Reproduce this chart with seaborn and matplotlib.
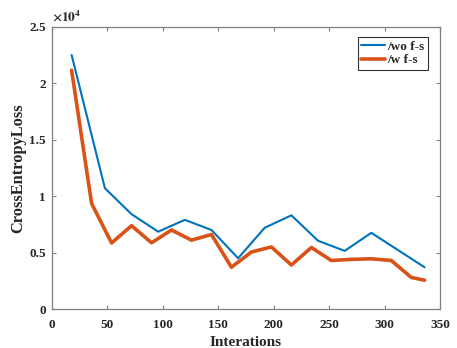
import numpy as np
import pandas as pd
import matplotlib
matplotlib.use("Agg")
import matplotlib.pyplot as plt
from matplotlib.ticker import FuncFormatter
import seaborn as sns

# values
wo_iter = [18, 48, 72, 96, 120, 144, 168, 192, 216, 240, 264, 288, 336]
wo_loss = [22500, 10700, 8400, 6850, 7900, 7000, 4500, 7200, 8300, 6050, 5150, 6750, 3700]

w_iter = [18, 36, 54, 72, 90, 108, 126, 144, 162, 180, 198, 216, 234, 252, 270, 288, 306, 324, 336]
w_loss = [21150, 9350, 5850, 7380, 5870, 7000, 6100, 6600, 3700, 5050, 5500, 3900, 5450,
          4300, 4400, 4450, 4300, 2800, 2550]

x_ticks = [0, 50, 100, 150, 200, 250, 300, 350]
y_ticks = [0, 5000, 10000, 15000, 20000, 25000]

df = pd.concat([
    pd.DataFrame({"Interations": wo_iter, "loss": wo_loss, "model": "/wo f-s"}),
    pd.DataFrame({"Interations": w_iter, "loss": w_loss, "model": "/w f-s"}),
])

sns.set_style("ticks")
plt.rcParams["font.family"] = ["Liberation Serif", "DejaVu Serif"]
plt.rcParams["font.weight"] = "bold"
plt.rcParams["mathtext.fontset"] = "stix"

fig = plt.figure(figsize=(4.57, 3.48), dpi=100)
ax = fig.add_axes([0.113, 0.112, 0.85, 0.811])

palette = {"/wo f-s": "#0072BD", "/w f-s": "#D95319"}
sns.lineplot(data=df, x="Interations", y="loss", hue="model", size="model",
             sizes={"/wo f-s": 1.5, "/w f-s": 2.6}, palette=palette, ax=ax)

ax.set_xlim(0, 350)
ax.set_ylim(0, 25000)
ax.set_xticks(x_ticks)
ax.set_yticks(y_ticks)
ax.yaxis.set_major_formatter(FuncFormatter(lambda v, p: "%g" % (v / 1e4)))
ax.tick_params(direction="in", length=3, top=True, right=True, labelsize=9.5,
               color="#808080", width=0.8, pad=4)
ax.tick_params(axis="x", pad=7)
for s in ax.spines.values():
    s.set_color("#808080")
    s.set_linewidth(0.9)
for lab in ax.get_xticklabels() + ax.get_yticklabels():
    lab.set_fontweight("bold")

ax.set_xlabel("Interations", fontsize=11, fontweight="bold", labelpad=4)
ax.set_ylabel("CrossEntropyLoss", fontsize=11.8, fontweight="bold", labelpad=2)
ax.text(0.0, 1.01, r"$\times10^{4}$", transform=ax.transAxes, fontsize=9.5,
        ha="left", va="bottom")

leg = ax.legend(loc="upper right", fontsize=9.5, frameon=True, fancybox=False,
                handlelength=1.8, borderpad=0.25, labelspacing=0.1,
                handletextpad=0.2, borderaxespad=0,
                bbox_to_anchor=(0.969, 0.963))
leg.get_frame().set_edgecolor("black")
leg.get_frame().set_linewidth(0.8)
for t in leg.get_texts():
    t.set_fontweight("bold")

plt.savefig("out.png", dpi=100)
